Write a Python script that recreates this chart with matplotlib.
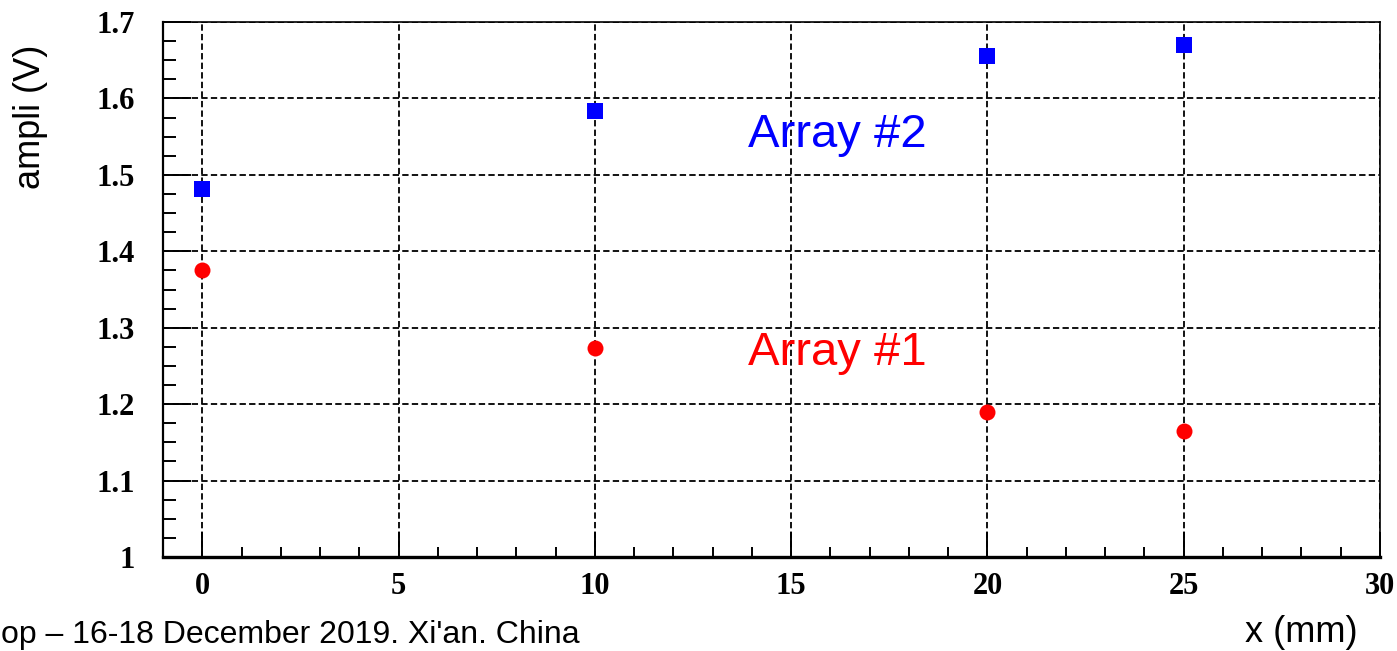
import matplotlib
matplotlib.use("Agg")
import matplotlib.pyplot as plt
from matplotlib.ticker import MultipleLocator

# Data
x_pos = [0, 10, 20, 25]
array1 = [1.375, 1.273, 1.190, 1.165]
array2 = [1.481, 1.584, 1.655, 1.670]
x_label = "x (mm)"
y_label = "ampli (V)"
label1 = "Array #1"
label2 = "Array #2"
footer = "op \u2013 16-18 December 2019. Xi'an. China"

W, H = 1397, 651
fig = plt.figure(figsize=(W / 100, H / 100), dpi=100)
ax = fig.add_axes([163 / W, 1 - 557 / H, (1380 - 163) / W, (557 - 22) / H])

ax.plot(x_pos, array1, linestyle="none", marker="o", markersize=11.5,
        color="#ff0000", markeredgewidth=0, zorder=5)
ax.plot(x_pos, array2, linestyle="none", marker="s", markersize=12,
        color="#0000ff", markeredgewidth=0, zorder=5)

ax.set_xlim(-1, 30)
ax.set_ylim(1.0, 1.7)
ax.xaxis.set_major_locator(MultipleLocator(5))
ax.xaxis.set_minor_locator(MultipleLocator(1))
ax.yaxis.set_major_locator(MultipleLocator(0.1))
ax.yaxis.set_minor_locator(MultipleLocator(0.025))

ax.grid(True, which="major", color="black", linestyle=(0, (3.5, 1.8)), linewidth=1.3)

tick_font = dict(family="Liberation Serif", weight="bold", size=22)
ax.tick_params(axis="x", which="major", direction="in", length=18, width=1.4, pad=11,
               top=False)
ax.tick_params(axis="x", which="minor", direction="in", length=7.5, width=1.4, top=False)
ax.tick_params(axis="y", which="major", direction="in", length=20, width=1.4, pad=20,
               right=False)
ax.tick_params(axis="y", which="minor", direction="in", length=9.5, width=1.4, right=False)

def fmt_y(v):
    s = f"{v:.1f}"
    return "1" if abs(v - 1.0) < 1e-9 else s

yt = [1.0 + 0.1 * i for i in range(8)]
ax.set_yticks(yt)
ax.set_yticklabels([fmt_y(v) for v in yt], fontdict=tick_font)
xt = [0, 5, 10, 15, 20, 25, 30]
ax.set_xticks(xt)
ax.set_xticklabels([str(v) for v in xt], fontdict=tick_font)

ax.spines["bottom"].set_linewidth(2.4)
ax.spines["left"].set_linewidth(1.6)
ax.spines["top"].set_linewidth(1.2)
ax.spines["right"].set_linewidth(1.2)

ax.text(13.9, 1.552, label2, color="#0000ff", fontsize=34, family="Liberation Sans",
        ha="left", va="center")
ax.text(13.9, 1.267, label1, color="#ff0000", fontsize=34, family="Liberation Sans",
        ha="left", va="center")

fig.text(30 / W, 1 - 117 / H, y_label, rotation=90, fontsize=26, family="Liberation Sans",
         ha="center", va="center")
fig.text(1358 / W, 1 - 632 / H, x_label, fontsize=26, family="Liberation Sans",
         ha="right", va="center")
fig.text(1 / W, 1 / H, footer, fontsize=23, family="Liberation Sans",
         ha="left", va="bottom")

fig.savefig("out.png", dpi=100)
